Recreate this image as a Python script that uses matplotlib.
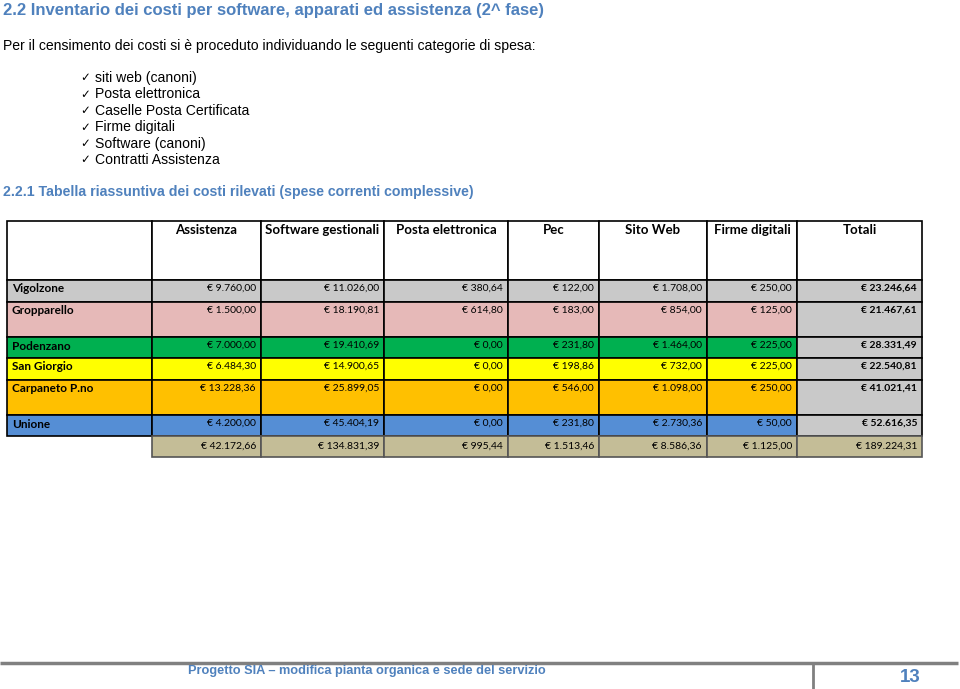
import matplotlib.pyplot as plt
from matplotlib.patches import Rectangle

# dati della tabella
comuni = ["Vigolzone", "Gropparello", "Podenzano", "San Giorgio", "Carpaneto P.no", "Unione"]
colonne = ["Assistenza", "Software gestionali", "Posta elettronica", "Pec", "Sito Web", "Firme digitali", "Totali"]
assistenza = [9760.00, 1500.00, 7000.00, 6484.30, 13228.36, 4200.00]
software = [11026.00, 18190.81, 19410.69, 14900.65, 25899.05, 45404.19]
posta = [380.64, 614.80, 0.00, 0.00, 0.00, 0.00]
pec = [122.00, 183.00, 231.80, 198.86, 546.00, 231.80]
sito_web = [1708.00, 854.00, 1464.00, 732.00, 1098.00, 2730.36]
firme = [250.00, 125.00, 225.00, 225.00, 250.00, 50.00]
categorie_spesa = ["siti web (canoni)", "Posta elettronica", "Caselle Posta Certificata",
                   "Firme digitali", "Software (canoni)", "Contratti Assistenza"]

row_colors = ["#C9C9C9", "#E6B9B8", "#00B050", "#FFFF00", "#FFC000", "#558ED5"]
tot_col_color = "#C9C9C9"
tot_row_color = "#C4BD97"
blue = "#4F81BD"

# layout (pixel)
col_edges = [7, 152, 261, 384, 508, 599, 707, 797, 922]
row_edges = [280, 302, 337, 358, 380, 415, 436, 457]
header_top = 221


def euro(v):
    s = f"{v:,.2f}".replace(",", "X").replace(".", ",").replace("X", ".")
    return "€ " + s


series = [assistenza, software, posta, pec, sito_web, firme]
row_tot = [round(sum(s[i] for s in series), 2) for i in range(len(comuni))]
col_tot = [round(sum(s), 2) for s in series] + [round(sum(row_tot), 2)]

fig = plt.figure(figsize=(9.6, 6.89), dpi=100)
ax = fig.add_axes([0, 0, 1, 1])
ax.set_xlim(0, 960)
ax.set_ylim(689, 0)
ax.axis('off')

body_font = ['Liberation Sans', 'DejaVu Sans']
cell_font = ['Lato', 'DejaVu Sans']

ax.text(3, 11, "2.2 Inventario dei costi per software, apparati ed assistenza (2^ fase)",
        fontsize=12, fontweight='bold', color=blue, family=body_font, va='center')
ax.text(3, 46, "Per il censimento dei costi si è proceduto individuando le seguenti categorie di spesa:",
        fontsize=10.1, family=body_font, va='center')
for i, c in enumerate(categorie_spesa):
    y = 78 + i * 16.4
    ax.text(80, y, "✓", fontsize=8.5, family=['DejaVu Sans'], va='center')
    ax.text(95, y, c, fontsize=10.1, family=body_font, va='center')
ax.text(3, 192, "2.2.1 Tabella riassuntiva dei costi rilevati (spese correnti complessive)",
        fontsize=10.2, fontweight='bold', color=blue, family=body_font, va='center')

lw = 1.2
# intestazione
ax.add_patch(Rectangle((col_edges[0], header_top), col_edges[1] - col_edges[0], row_edges[0] - header_top,
                       facecolor='white', edgecolor='black', lw=lw))
for j, name in enumerate(colonne):
    x0, x1 = col_edges[j + 1], col_edges[j + 2]
    ax.add_patch(Rectangle((x0, header_top), x1 - x0, row_edges[0] - header_top,
                           facecolor='white', edgecolor='black', lw=lw))
    ax.text((x0 + x1) / 2, 230, name, fontsize=9.5, fontweight='bold', family=cell_font,
            ha='center', va='center')

# righe dei comuni
for i, com in enumerate(comuni):
    y0, y1 = row_edges[i], row_edges[i + 1]
    ax.add_patch(Rectangle((col_edges[0], y0), col_edges[1] - col_edges[0], y1 - y0,
                           facecolor=row_colors[i], edgecolor='black', lw=lw))
    ax.text(12, y0 + 9, com, fontsize=8.5, fontweight='bold', family=cell_font, va='center')
    vals = [s[i] for s in series] + [row_tot[i]]
    for j, v in enumerate(vals):
        x0, x1 = col_edges[j + 1], col_edges[j + 2]
        fc = tot_col_color if j == len(vals) - 1 else row_colors[i]
        ax.add_patch(Rectangle((x0, y0), x1 - x0, y1 - y0, facecolor=fc, edgecolor='black', lw=lw))
        ax.text(x1 - 5, y0 + 8, euro(v), fontsize=7.5, family=cell_font,
                fontweight='bold' if j == len(vals) - 1 else 'normal', ha='right', va='center')

# riga dei totali
y0, y1 = row_edges[-2], row_edges[-1]
for j, v in enumerate(col_tot):
    x0, x1 = col_edges[j + 1], col_edges[j + 2]
    ax.add_patch(Rectangle((x0, y0), x1 - x0, y1 - y0, facecolor=tot_row_color, edgecolor='#555555', lw=lw))
    ax.text(x1 - 5, (y0 + y1) / 2, euro(v), fontsize=7.5, family=cell_font, ha='right', va='center')

# piè di pagina
ax.plot([0, 958], [663, 663], color='#808080', lw=2.5, solid_capstyle='butt')
ax.plot([813, 813], [663, 689], color='#808080', lw=2, solid_capstyle='butt')
ax.text(188, 671, "Progetto SIA – modifica pianta organica e sede del servizio", fontsize=9.2,
        fontweight='bold', color=blue, family=body_font, va='center')
ax.text(910, 677, "13", fontsize=13.5, fontweight='bold', color=blue, family=body_font,
        ha='center', va='center')

fig.savefig("out.png", dpi=100, facecolor='white')
plt.close(fig)
